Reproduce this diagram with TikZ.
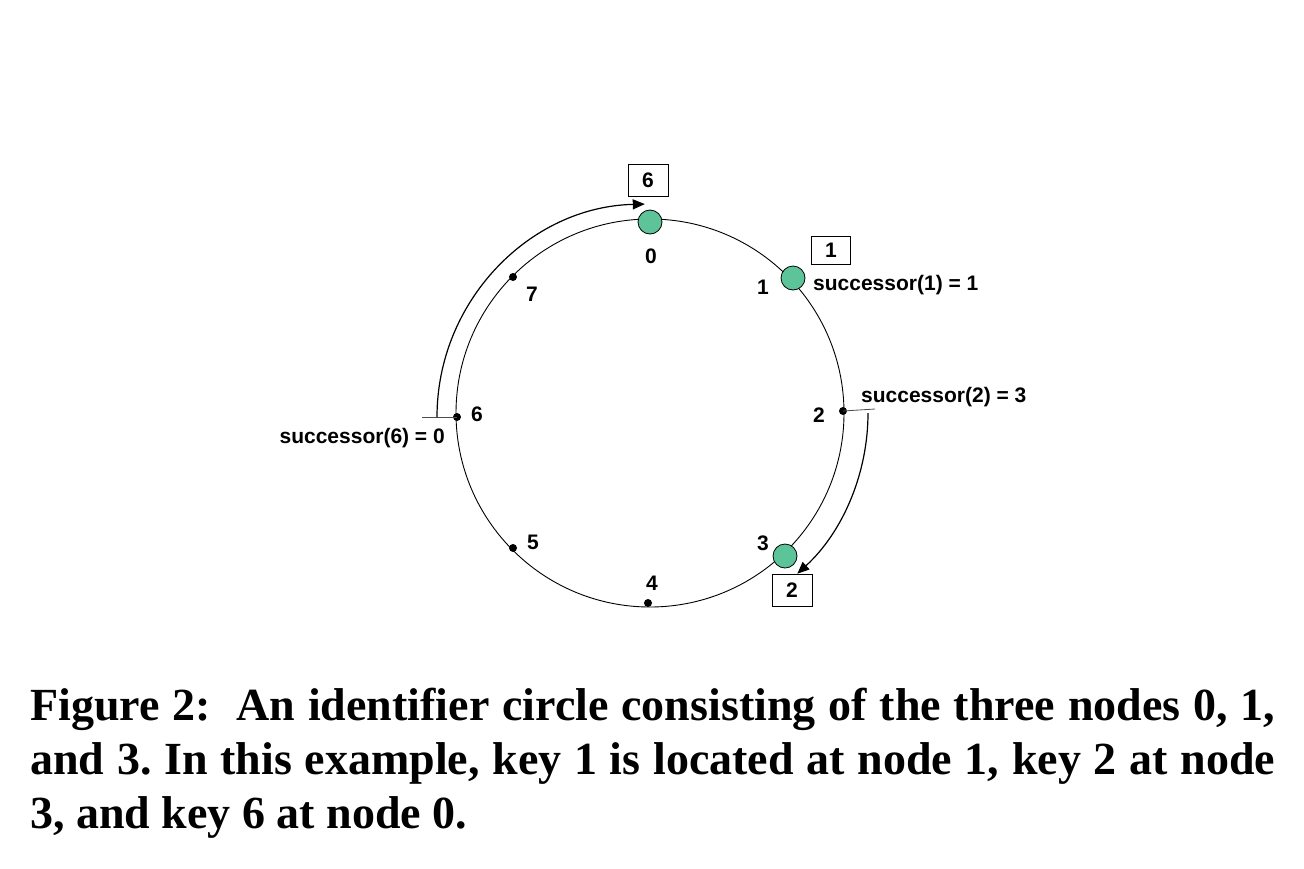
\documentclass[tikz,border=0pt]{standalone}
\usepackage{fontspec}
\setmainfont{Liberation Serif}
\setsansfont{Liberation Sans}
\usetikzlibrary{arrows.meta}
\definecolor{nodegreen}{RGB}{92,196,152}
\tikzset{
  lbl/.style={font=\sffamily\bfseries\fontsize{21}{25}\selectfont, inner sep=0pt},
  dotnode/.style={circle, fill=black, inner sep=0pt, minimum size=8pt},
  peer/.style={circle, draw=black, line width=0.8pt, fill=nodegreen, inner sep=0pt, minimum size=24pt},
  keybox/.style={draw=black, line width=0.8pt, font=\sffamily\bfseries\fontsize{21}{25}\selectfont, inner sep=0pt, minimum width=40pt},
  ring/.style={line width=0.9pt},
  arcarrow/.style={line width=1.2pt, -{Triangle[length=12pt,width=10pt]}},
  tick/.style={line width=0.8pt, draw=black!70}
}
\begin{document}
\begin{tikzpicture}[x=1pt,y=-1pt]
\useasboundingbox (0,0) rectangle (1304,868);
% identifier circle
\draw[ring] (650,413) circle[radius=194];
% nodes and points
\node[peer] (n0) at (650,222) {};
\node[peer] (n1) at (793,278) {};
\node[dotnode] (d2) at (843,411) {};
\node[peer] (n3) at (785,556) {};
\node[dotnode] (d4) at (648,603) {};
\node[dotnode] (d5) at (513,548) {};
\node[dotnode] (d6) at (457,417) {};
\node[dotnode] (d7) at (513,277) {};
% labels
\node[lbl] (l0) at (651,256) {0};
\node[lbl] (l1) at (763,287) {1};
\node[lbl] (l2) at (819,415) {2};
\node[lbl] (l3) at (763,543) {3};
\node[lbl] (l4) at (652,583) {4};
\node[lbl] (l5) at (533,542) {5};
\node[lbl] (l6) at (477,414) {6};
\node[lbl] (l7) at (532,294) {7};
% successor texts
\node[lbl, anchor=base west] (s1) at (813,290) {successor(1) = 1};
\node[lbl, anchor=base west] (s2) at (861,402) {successor(2) = 3};
\node[lbl, anchor=base east] (s6) at (445,443) {successor(6) = 0};
% key boxes
\node[keybox, minimum height=32pt] (k6) at (648,180) {6};
\node[keybox, minimum height=28pt, minimum width=39pt] (k1) at (831,250) {1};
\node[keybox, minimum height=32pt] (k2) at (792,590) {2};
% ticks
\coordinate (t6) at (422,417);
\coordinate (t2) at (875,409);
\draw[tick] (t6) -- (d6.center);
\draw[tick] (d2.center) -- (t2);
% arcs
\coordinate (a6) at (437,417);
\coordinate (a2) at (868,413);
\draw[arcarrow] (a6) arc[start angle=180, end angle=268.6, radius=213];
\draw[arcarrow] (a2) arc[start angle=0, end angle=47.5, radius=218];
% caption
\node[anchor=north west, text width=1245pt, align=justify, inner sep=0pt,
      font=\rmfamily\bfseries\fontsize{46}{54}\selectfont] (cap) at (30,688)
  {\frenchspacing Figure 2:\ \ An identifier circle consisting of the three nodes 0, 1,\linebreak
   and 3. In this example, key 1 is located at node 1, key 2 at node\linebreak
   3, and key 6 at node 0.};
\end{tikzpicture}
\end{document}
